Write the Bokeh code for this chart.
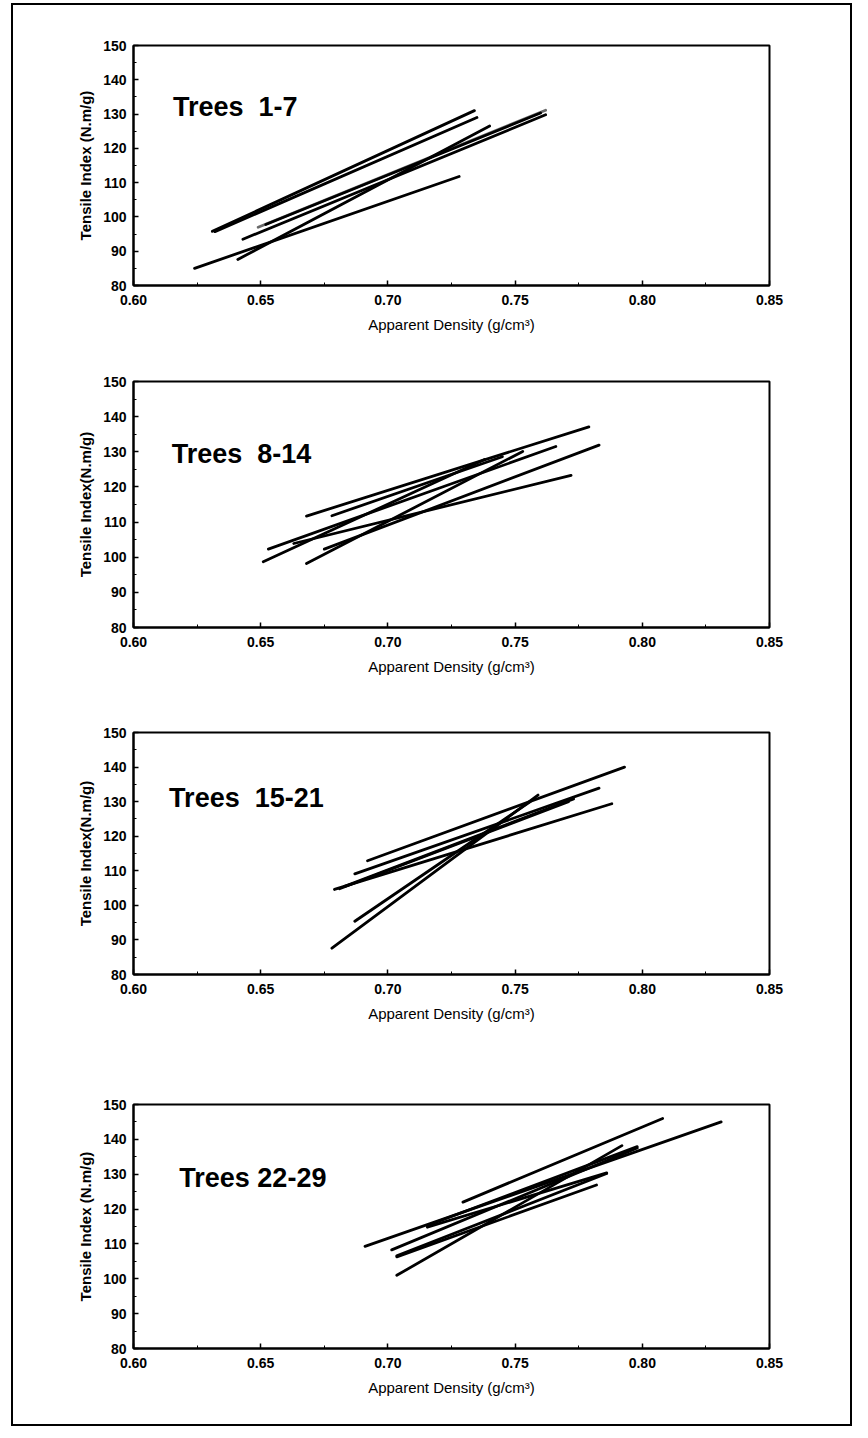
from bokeh.plotting import figure
from bokeh.layouts import column
from bokeh.models import Range1d, FixedTicker, NumeralTickFormatter, Label
from bokeh.embed import file_html
from bokeh.resources import INLINE

# ---------------- data (regression lines: start and end points) ----------------
x_ticks = [0.60, 0.65, 0.70, 0.75, 0.80, 0.85]
y_ticks = [80, 90, 100, 110, 120, 130, 140, 150]
x_minor = [0.625, 0.675, 0.725, 0.775, 0.825]
y_minor = [85, 95, 105, 115, 125, 135, 145]

p1_x0 = [0.631, 0.632, 0.643, 0.649, 0.652, 0.641, 0.624]
p1_y0 = [95.8, 95.7, 93.5, 97.0, 97.8, 87.6, 85.0]
p1_x1 = [0.734, 0.735, 0.762, 0.762, 0.760, 0.740, 0.728]
p1_y1 = [131.0, 129.0, 129.8, 131.1, 130.3, 126.5, 111.8]

p2_x0 = [0.651, 0.653, 0.663, 0.668, 0.668, 0.678, 0.675]
p2_y0 = [98.7, 102.3, 103.9, 98.2, 111.7, 111.8, 102.3]
p2_x1 = [0.738, 0.766, 0.772, 0.753, 0.779, 0.745, 0.783]
p2_y1 = [127.8, 131.5, 123.3, 130.1, 137.1, 128.6, 131.9]

p3_x0 = [0.692, 0.687, 0.679, 0.683, 0.681, 0.687, 0.678]
p3_y0 = [112.9, 109.1, 104.6, 105.5, 104.8, 95.4, 87.6]
p3_x1 = [0.793, 0.783, 0.788, 0.773, 0.771, 0.756, 0.759]
p3_y1 = [140.0, 133.9, 129.4, 130.8, 130.0, 130.0, 131.9]

p4_x0 = [0.7295, 0.691, 0.7035, 0.7015, 0.7035, 0.7155, 0.7155, 0.7035]
p4_y0 = [122.0, 109.3, 101.0, 108.3, 106.3, 114.8, 115.3, 106.6]
p4_x1 = [0.808, 0.831, 0.792, 0.798, 0.782, 0.786, 0.798, 0.786]
p4_y1 = [146.0, 145.0, 138.2, 137.5, 126.9, 130.4, 137.9, 130.2]

p1_colors = ["black", "black", "black", "#6a6a6a", "black", "black", "black"]

panel_titles = ["Trees\u00a0 1-7", "Trees\u00a0 8-14", "Trees\u00a0 15-21", "Trees 22-29"]
y_titles = ["Tensile Index (N.m/g)", "Tensile Index(N.m/g)",
            "Tensile Index(N.m/g)", "Tensile Index (N.m/g)"]
x_title = "Apparent Density (g/cm³)"

# ---------------- layout of each panel ----------------
# (height, border_left, border_right, border_top, border_bottom, label_x, label_y)
layout_specs = [
    (344, 104, 81, 40, 64, 0.6155, 132.0),
    (345, 110, 61, 32, 67, 0.6150, 129.4),
    (360, 110, 59, 38, 80, 0.6140, 131.0),
    (370, 120, 69, 50, 76, 0.6180, 129.0),
]

FONT = "Liberation Sans"


def make_panel(i, x0, y0, x1, y1, colors):
    h, bl, br, bt, bb, lx, ly = layout_specs[i]
    p = figure(width=837, height=h, output_backend="svg", toolbar_location=None,
               x_range=Range1d(0.60, 0.85), y_range=Range1d(80, 150),
               min_border_left=bl, min_border_right=br,
               min_border_top=bt, min_border_bottom=bb,
               background_fill_color="white", border_fill_color="white")
    p.outline_line_color = "black"
    p.outline_line_width = 2
    p.xgrid.visible = False
    p.ygrid.visible = False

    p.xaxis.ticker = FixedTicker(ticks=x_ticks, minor_ticks=x_minor)
    p.yaxis.ticker = FixedTicker(ticks=y_ticks, minor_ticks=y_minor)
    p.xaxis.formatter = NumeralTickFormatter(format="0.00")

    for ax in (p.xaxis[0], p.yaxis[0]):
        ax.axis_line_color = "black"
        ax.axis_line_width = 2
        ax.major_tick_in = 5
        ax.major_tick_out = 0
        ax.minor_tick_in = 3
        ax.minor_tick_out = 0
        ax.major_tick_line_color = "black"
        ax.minor_tick_line_color = "black"
        ax.major_tick_line_width = 1.5
        ax.major_label_text_font = FONT
        ax.major_label_text_font_size = "14px"
        ax.major_label_text_font_style = "bold"
        ax.major_label_text_color = "black"
        ax.axis_label_text_font = FONT
        ax.axis_label_text_color = "black"

    p.xaxis.major_label_standoff = 9
    p.yaxis.major_label_standoff = 7
    p.xaxis.axis_label = x_title
    p.xaxis.axis_label_text_font_size = "15px"
    p.xaxis.axis_label_text_font_style = "normal"
    p.xaxis.axis_label_standoff = 8
    p.yaxis.axis_label = y_titles[i]
    p.yaxis.axis_label_text_font_size = "15px"
    p.yaxis.axis_label_text_font_style = "bold"
    p.yaxis.axis_label_standoff = 6

    p.segment(x0=x0, y0=y0, x1=x1, y1=y1, line_color=colors,
              line_width=2.8, line_cap="round")

    p.add_layout(Label(x=lx, y=ly, text=panel_titles[i], text_font=FONT,
                       text_font_size="27px", text_font_style="bold",
                       text_color="black", text_baseline="alphabetic"))
    return p


p1 = make_panel(0, p1_x0, p1_y0, p1_x1, p1_y1, p1_colors)
p2 = make_panel(1, p2_x0, p2_y0, p2_x1, p2_y1, ["black"] * len(p2_x0))
p3 = make_panel(2, p3_x0, p3_y0, p3_x1, p3_y1, ["black"] * len(p3_x0))
p4 = make_panel(3, p4_x0, p4_y0, p4_x1, p4_y1, ["black"] * len(p4_x0))

layout = column(p1, p2, p3, p4, margin=(3, 0, 0, 11), spacing=0,
                styles={"border": "2px solid black", "background-color": "white"})

open("out.html", "w").write(file_html(layout, INLINE))
